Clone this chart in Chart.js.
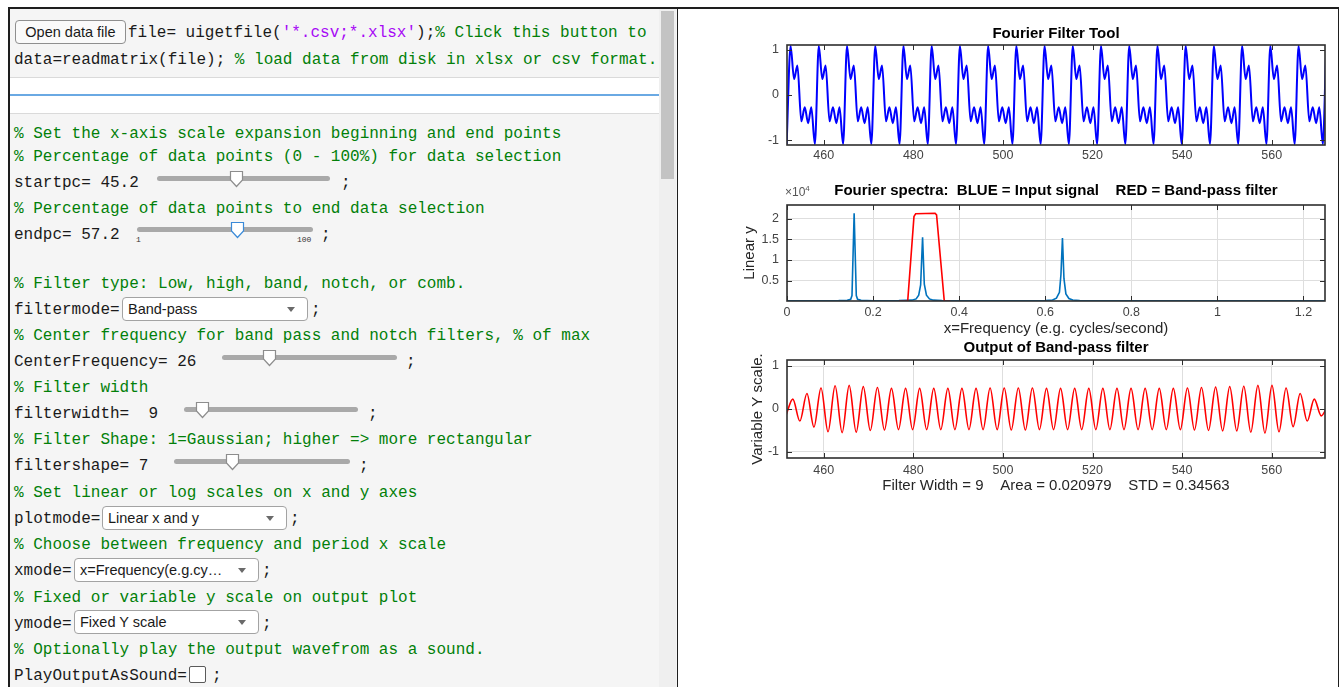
<!DOCTYPE html>
<html>
<head>
<meta charset="utf-8">
<title>Fourier Filter Tool</title>
<script src="https://cdn.jsdelivr.net/npm/chart.js@4.4.1/dist/chart.umd.min.js"></script>
<style>
  body { margin:0; width:1340px; height:687px; overflow:hidden; background:#fff; position:relative; font-family:"Liberation Sans", Arial, sans-serif; }
  .abs { position:absolute; }
  #leftPane { left:8px; top:7px; width:668px; height:700px; background:#f5f5f5; border-left:2px solid #1e1e1e; border-top:2px solid #1e1e1e; }
  #rightPane { left:677px; top:7px; width:660px; height:700px; background:#fff; border:1px solid #1e1e1e; border-top-width:2px; }
  #textBand { left:10px; top:77px; width:649px; height:35px; background:#fff; border-top:1px solid #dadada; border-bottom:1px solid #dadada; }
  #focusLine { left:10px; top:94px; width:649px; height:2px; background:#6aa9e3; }
  #scrollTrack { left:659px; top:9px; width:17px; height:690px; background:#efefef; }
  #scrollThumb { left:661px; top:11px; width:13px; height:168px; background:#c3c3c3; }
  .ln { position:absolute; margin-top:2px; font-family:"Liberation Mono","DejaVu Sans Mono",monospace; font-size:16px; line-height:20px; white-space:pre; color:#1a1a1a; }
  .cm { color:#028009; }
  .st { color:#a709f5; }
  .trk { position:absolute; height:5px; background:#a9a9a9; border-radius:3px; }
  .thumb { position:absolute; }
  .thumb path { fill:#fff; stroke:#8d8d8d; stroke-width:1.2; }
  .thumb.on path { stroke:#3a8ad8; }
  .dd { position:absolute; height:24px; box-sizing:border-box; border:1px solid #a3a3a3; border-radius:4px; background:#fff;
        font-family:"Liberation Sans", Arial, sans-serif; font-size:14.5px; line-height:22px; padding-left:5px; color:#1a1a1a; }
  .dd::after { content:""; position:absolute; right:12px; top:9px; border-left:4px solid transparent; border-right:4px solid transparent; border-top:5px solid #6a6a6a; }
  #openBtn { left:15px; top:20px; width:111px; height:24px; box-sizing:border-box; border:1px solid #8f8f8f; border-radius:4px; background:#fafafa;
        font-family:"Liberation Sans", Arial, sans-serif; font-size:14.5px; line-height:22px; text-align:center; color:#1a1a1a; }
  #playBox { left:189px; top:666px; width:17px; height:17px; box-sizing:border-box; border:1px solid #5a5a5a; border-radius:2px; background:#fff; }
  .tiny { position:absolute; font-family:"Liberation Mono",monospace; font-size:8px; color:#333; }
  canvas { position:absolute; }
</style>
</head>
<body>
<div id="leftPane" class="abs"></div>
<div id="rightPane" class="abs"></div>
<div id="textBand" class="abs"></div>
<div id="focusLine" class="abs"></div>
<div id="scrollTrack" class="abs"></div>
<div id="scrollThumb" class="abs"></div>

<div id="openBtn" class="abs">Open data file</div>
<div class="ln" style="left:128px;top:21px">file= uigetfile(<span class="st">'*.csv;*.xlsx'</span>);<span class="cm">% Click this button to</span></div>
<div class="ln" style="left:14px;top:48px">data=readmatrix(file); <span class="cm">% load data from disk in xlsx or csv format.</span></div>

<div class="ln cm" style="left:14px;top:122px">% Set the x-axis scale expansion beginning and end points</div>
<div class="ln cm" style="left:14px;top:145px">% Percentage of data points (0 - 100%) for data selection</div>
<div class="ln" style="left:14px;top:171px">startpc= 45.2</div>
<div class="trk" style="left:157px;top:176px;width:173px"></div>
<svg class="thumb" style="left:229px;top:170px" width="15" height="18"><path d="M1.5 1.5H13.5V10L7.5 16.5L1.5 10Z"/></svg>
<div class="ln" style="left:341px;top:171px">;</div>

<div class="ln cm" style="left:14px;top:197px">% Percentage of data points to end data selection</div>
<div class="ln" style="left:14px;top:223px">endpc= 57.2</div>
<div class="trk" style="left:137px;top:227px;width:176px"></div>
<svg class="thumb on" style="left:230px;top:221px" width="15" height="18"><path d="M1.5 1.5H13.5V10L7.5 16.5L1.5 10Z"/></svg>
<div class="tiny" style="left:136px;top:235px">1</div>
<div class="tiny" style="left:297px;top:235px">100</div>
<div class="ln" style="left:321px;top:223px">;</div>

<div class="ln cm" style="left:14px;top:272px">% Filter type: Low, high, band, notch, or comb.</div>
<div class="ln" style="left:14px;top:298px">filtermode=</div>
<div class="dd" style="left:122px;top:297px;width:186px">Band-pass</div>
<div class="ln" style="left:311px;top:298px">;</div>

<div class="ln cm" style="left:14px;top:324px">% Center frequency for band pass and notch filters, % of max</div>
<div class="ln" style="left:14px;top:350px">CenterFrequency= 26</div>
<div class="trk" style="left:222px;top:355px;width:175px"></div>
<svg class="thumb" style="left:262px;top:349px" width="15" height="18"><path d="M1.5 1.5H13.5V10L7.5 16.5L1.5 10Z"/></svg>
<div class="ln" style="left:406px;top:350px">;</div>

<div class="ln cm" style="left:14px;top:376px">% Filter width</div>
<div class="ln" style="left:14px;top:402px">filterwidth=  9</div>
<div class="trk" style="left:184px;top:407px;width:174px"></div>
<svg class="thumb" style="left:195px;top:401px" width="15" height="18"><path d="M1.5 1.5H13.5V10L7.5 16.5L1.5 10Z"/></svg>
<div class="ln" style="left:368px;top:402px">;</div>

<div class="ln cm" style="left:14px;top:428px">% Filter Shape: 1=Gaussian; higher =&gt; more rectangular</div>
<div class="ln" style="left:14px;top:454px">filtershape= 7</div>
<div class="trk" style="left:174px;top:459px;width:176px"></div>
<svg class="thumb" style="left:225px;top:453px" width="15" height="18"><path d="M1.5 1.5H13.5V10L7.5 16.5L1.5 10Z"/></svg>
<div class="ln" style="left:359px;top:454px">;</div>

<div class="ln cm" style="left:14px;top:481px">% Set linear or log scales on x and y axes</div>
<div class="ln" style="left:14px;top:507px">plotmode=</div>
<div class="dd" style="left:102px;top:506px;width:185px">Linear x and y</div>
<div class="ln" style="left:290px;top:507px">;</div>

<div class="ln cm" style="left:14px;top:533px">% Choose between frequency and period x scale</div>
<div class="ln" style="left:14px;top:559px">xmode=</div>
<div class="dd" style="left:74px;top:558px;width:185px">x=Frequency(e.g.cy…</div>
<div class="ln" style="left:262px;top:559px">;</div>

<div class="ln cm" style="left:14px;top:586px">% Fixed or variable y scale on output plot</div>
<div class="ln" style="left:14px;top:612px">ymode=</div>
<div class="dd" style="left:74px;top:610px;width:185px">Fixed Y scale</div>
<div class="ln" style="left:262px;top:612px">;</div>

<div class="ln cm" style="left:14px;top:638px">% Optionally play the output wavefrom as a sound.</div>
<div class="ln" style="left:14px;top:664px">PlayOutputAsSound=</div>
<div id="playBox" class="abs"></div>
<div class="ln" style="left:212px;top:664px">;</div>

<canvas id="inputChart" width="595" height="150" style="left:740px;top:20px"></canvas>
<canvas id="spectrumChart" width="595" height="162" style="left:740px;top:178px"></canvas>
<canvas id="outputChart" width="595" height="160" style="left:740px;top:336px"></canvas>
<div class="abs" style="left:785px;top:184px;font-size:12px;color:#555">×10<sup style="font-size:8px">4</sup></div>

<script>
/* values */

// time axis shared by the input and output plots
var timeRange = [451.8, 571.9];
var timeTicks = [460, 480, 500, 520, 540, 560];
var signalTicks = [-1, 0, 1];

// input signal: one repeating cycle (offset from its big peak, value), and where each big peak sits
var inputCycleOffset = [-0.88, 0, 0.78, 1.52, 2.40, 3.16, 3.92, 4.62];
var inputCycleValue  = [-1.08, 1.08, 0.35, 0.65, -0.58, -0.27, -0.62, -0.27];
var inputPeakX = [452.6, 458.9, 465.2, 471.5, 477.8, 484.1, 490.4, 496.7, 503.0, 509.3,
                  515.6, 521.9, 528.2, 534.5, 540.8, 547.1, 553.4, 559.7, 566.0, 572.3];

// spectrum (values in units of 10^4)
var freqRange = [0, 1.25];
var freqTicks = [0, 0.2, 0.4, 0.6, 0.8, 1, 1.2];
var powerTicks = [0.5, 1, 1.5, 2];
var specX = [0, 0.06, 0.12, 0.140, 0.148, 0.151, 0.156, 0.161, 0.164, 0.172,
             0.20, 0.26, 0.290, 0.300, 0.306, 0.3105, 0.315, 0.319, 0.324, 0.331,
             0.340, 0.36, 0.45, 0.55, 0.600, 0.617, 0.626, 0.633, 0.6365, 0.640,
             0.6435, 0.648, 0.655, 0.664, 0.68, 0.75, 0.9, 1.05, 1.25];
var specY = [0.015, 0.015, 0.018, 0.025, 0.05, 0.14, 2.13, 0.14, 0.05, 0.025,
             0.015, 0.018, 0.03, 0.06, 0.15, 0.40, 1.55, 0.42, 0.15, 0.06,
             0.03, 0.02, 0.015, 0.015, 0.02, 0.035, 0.08, 0.22, 0.65, 1.53,
             0.55, 0.18, 0.07, 0.035, 0.02, 0.015, 0.012, 0.012, 0.012];
var filterX = [0.26, 0.2804, 0.2950, 0.2990, 0.3440, 0.3475, 0.3655, 0.38];
var filterY = [0, 0, 2.05, 2.12, 2.13, 2.09, 0, 0];

// band-pass output: successive troughs and crests
var outX = [451.53, 453.10, 454.67, 456.25, 457.82, 459.39, 460.96, 462.54, 464.11, 465.68,
            467.25, 468.83, 470.40, 471.98, 473.55, 475.12, 476.69, 478.27, 479.84, 481.41,
            482.98, 484.56, 486.13, 487.71, 489.28, 490.85, 492.42, 494.00, 495.57, 497.14,
            498.71, 500.29, 501.86, 503.44, 505.01, 506.58, 508.15, 509.73, 511.30, 512.87,
            514.44, 516.02, 517.59, 519.17, 520.74, 522.31, 523.88, 525.46, 527.03, 528.60,
            530.17, 531.75, 533.32, 534.90, 536.47, 538.04, 539.61, 541.19, 542.76, 544.33,
            545.90, 547.48, 549.05, 550.63, 552.20, 553.77, 555.34, 556.92, 558.49, 560.06,
            561.63, 563.21, 564.78, 566.36, 567.93, 569.50, 571.07, 572.64];
var outY = [-0.16, 0.23, -0.28, 0.36, -0.42, 0.49, -0.53, 0.54, -0.55, 0.55,
            -0.54, 0.52, -0.50, 0.50, -0.49, 0.48, -0.48, 0.48, -0.48, 0.48,
            -0.48, 0.48, -0.48, 0.48, -0.48, 0.48, -0.48, 0.48, -0.48, 0.49,
            -0.48, 0.49, -0.49, 0.49, -0.49, 0.49, -0.48, 0.48, -0.48, 0.48,
            -0.48, 0.48, -0.48, 0.48, -0.48, 0.48, -0.48, 0.48, -0.48, 0.48,
            -0.48, 0.48, -0.48, 0.48, -0.48, 0.48, -0.48, 0.49, -0.49, 0.50,
            -0.50, 0.51, -0.51, 0.52, -0.51, 0.53, -0.54, 0.55, -0.56, 0.55,
            -0.53, 0.49, -0.41, 0.36, -0.28, 0.23, -0.16, 0.12];

/* build point lists for the library */
function zipPoints(xs, ys) {
    return xs.map(function (x, i) { return { x: x, y: ys[i] }; });
}

var inputPoints = [];
inputPeakX.forEach(function (px) {
    inputCycleOffset.forEach(function (o, i) {
        inputPoints.push({ x: +(px + o).toFixed(3), y: inputCycleValue[i] });
    });
});

/* look of a MATLAB axes */
var FONT = '"Liberation Sans", Arial, Helvetica, sans-serif';
var tickFont = { family: FONT, size: 12.5 };
var labelFont = { family: FONT, size: 15 };
var titleFont = { family: FONT, size: 15, weight: 'bold' };
var tickColor = '#444';
var gridColor = '#dedede';

// box round the plot area with inward ticks on all four sides
var matlabBox = {
    id: 'matlabBox',
    afterDatasetsDraw: function (chart) {
        var ctx = chart.ctx, a = chart.chartArea, sx = chart.scales.x, sy = chart.scales.y;
        var len = 5;
        ctx.save();
        ctx.strokeStyle = '#2e2e2e';
        ctx.lineWidth = 1;
        ctx.beginPath();
        sx.ticks.forEach(function (t) {
            var px = Math.round(sx.getPixelForValue(t.value)) + 0.5;
            ctx.moveTo(px, a.bottom); ctx.lineTo(px, a.bottom - len);
            ctx.moveTo(px, a.top); ctx.lineTo(px, a.top + len);
        });
        sy.ticks.forEach(function (t) {
            var py = Math.round(sy.getPixelForValue(t.value)) + 0.5;
            ctx.moveTo(a.left, py); ctx.lineTo(a.left + len, py);
            ctx.moveTo(a.right, py); ctx.lineTo(a.right - len, py);
        });
        ctx.stroke();
        ctx.lineWidth = 1.6;
        ctx.strokeRect(a.left, a.top, a.right - a.left, a.bottom - a.top);
        ctx.restore();
    }
};

function makeScales(o) {
    return {
        x: {
            type: 'linear', min: o.xRange[0], max: o.xRange[1],
            afterBuildTicks: function (s) { s.ticks = o.xTicks.map(function (v) { return { value: v }; }); },
            afterFit: function (s) { s.height = o.xHeight; },
            ticks: { font: tickFont, color: tickColor, padding: o.xPad, maxRotation: 0, autoSkip: false,
                     callback: function (v) { return String(v); } },
            grid: { display: o.grid, color: gridColor, lineWidth: 1, drawTicks: false },
            border: { display: false },
            title: o.xTitle ? { display: true, text: o.xTitle, font: labelFont, color: '#262626',
                                padding: { top: 0, bottom: o.xTitlePad } } : { display: false }
        },
        y: {
            type: 'linear', min: o.yRange[0], max: o.yRange[1],
            afterBuildTicks: function (s) { s.ticks = o.yTicks.map(function (v) { return { value: v }; }); },
            afterFit: function (s) { s.width = 47; },
            ticks: { font: tickFont, color: tickColor, padding: 8, autoSkip: false,
                     callback: function (v) { return String(v); } },
            grid: { display: o.grid, color: gridColor, lineWidth: 1, drawTicks: false },
            border: { display: false },
            title: o.yTitle ? { display: true, text: o.yTitle, font: labelFont, color: '#262626',
                                padding: { top: o.yTitlePad, bottom: 0 } } : { display: false }
        }
    };
}

function baseOptions(title, pad, scales) {
    return {
        responsive: false,
        animation: false,
        devicePixelRatio: 1,
        events: [],
        layout: { padding: { right: 10 } },
        plugins: {
            legend: { display: false },
            tooltip: { enabled: false },
            title: { display: true, text: title, fullSize: false, color: '#000', font: titleFont,
                     padding: { top: pad[0], bottom: pad[1] } }
        },
        scales: scales
    };
}

new Chart(document.getElementById('inputChart'), {
    type: 'line',
    data: { datasets: [{ data: inputPoints, borderColor: '#0000ff', borderWidth: 2, pointRadius: 0,
                         cubicInterpolationMode: 'monotone', clip: 0 }] },
    options: baseOptions('Fourier Filter Tool', [5, 2], makeScales({
        xRange: timeRange, xTicks: timeTicks, xHeight: 25, xPad: 3,
        yRange: [-1.1, 1.1], yTicks: signalTicks, grid: false
    })),
    plugins: [matlabBox]
});

new Chart(document.getElementById('spectrumChart'), {
    type: 'line',
    data: { datasets: [
        { data: zipPoints(filterX, filterY), borderColor: '#ff0000', borderWidth: 1.6, pointRadius: 0, tension: 0, clip: 0 },
        { data: zipPoints(specX, specY), borderColor: '#0072bd', borderWidth: 1.6, pointRadius: 0, tension: 0, clip: 0 }
    ] },
    options: baseOptions('Fourier spectra:  BLUE = Input signal    RED = Band-pass filter', [4, 5], makeScales({
        xRange: freqRange, xTicks: freqTicks, xHeight: 39, xPad: 4,
        xTitle: 'x=Frequency (e.g. cycles/second)', xTitlePad: 2,
        yRange: [0.01, 2.33], yTicks: powerTicks, grid: true,
        yTitle: 'Linear y', yTitlePad: 1
    })),
    plugins: [matlabBox]
});

new Chart(document.getElementById('outputChart'), {
    type: 'line',
    data: { datasets: [{ data: zipPoints(outX, outY), borderColor: '#ff0000', borderWidth: 1.6, pointRadius: 0,
                         cubicInterpolationMode: 'monotone', clip: 0 }] },
    options: baseOptions('Output of Band-pass filter', [3, 3], makeScales({
        xRange: timeRange, xTicks: timeTicks, xHeight: 38, xPad: 5,
        xTitle: 'Filter Width = 9    Area = 0.020979    STD = 0.34563', xTitlePad: 1,
        yRange: [-1.14, 1.14], yTicks: signalTicks, grid: true,
        yTitle: 'Variable Y scale.', yTitlePad: 9
    })),
    plugins: [matlabBox]
});
</script>
</body>
</html>
